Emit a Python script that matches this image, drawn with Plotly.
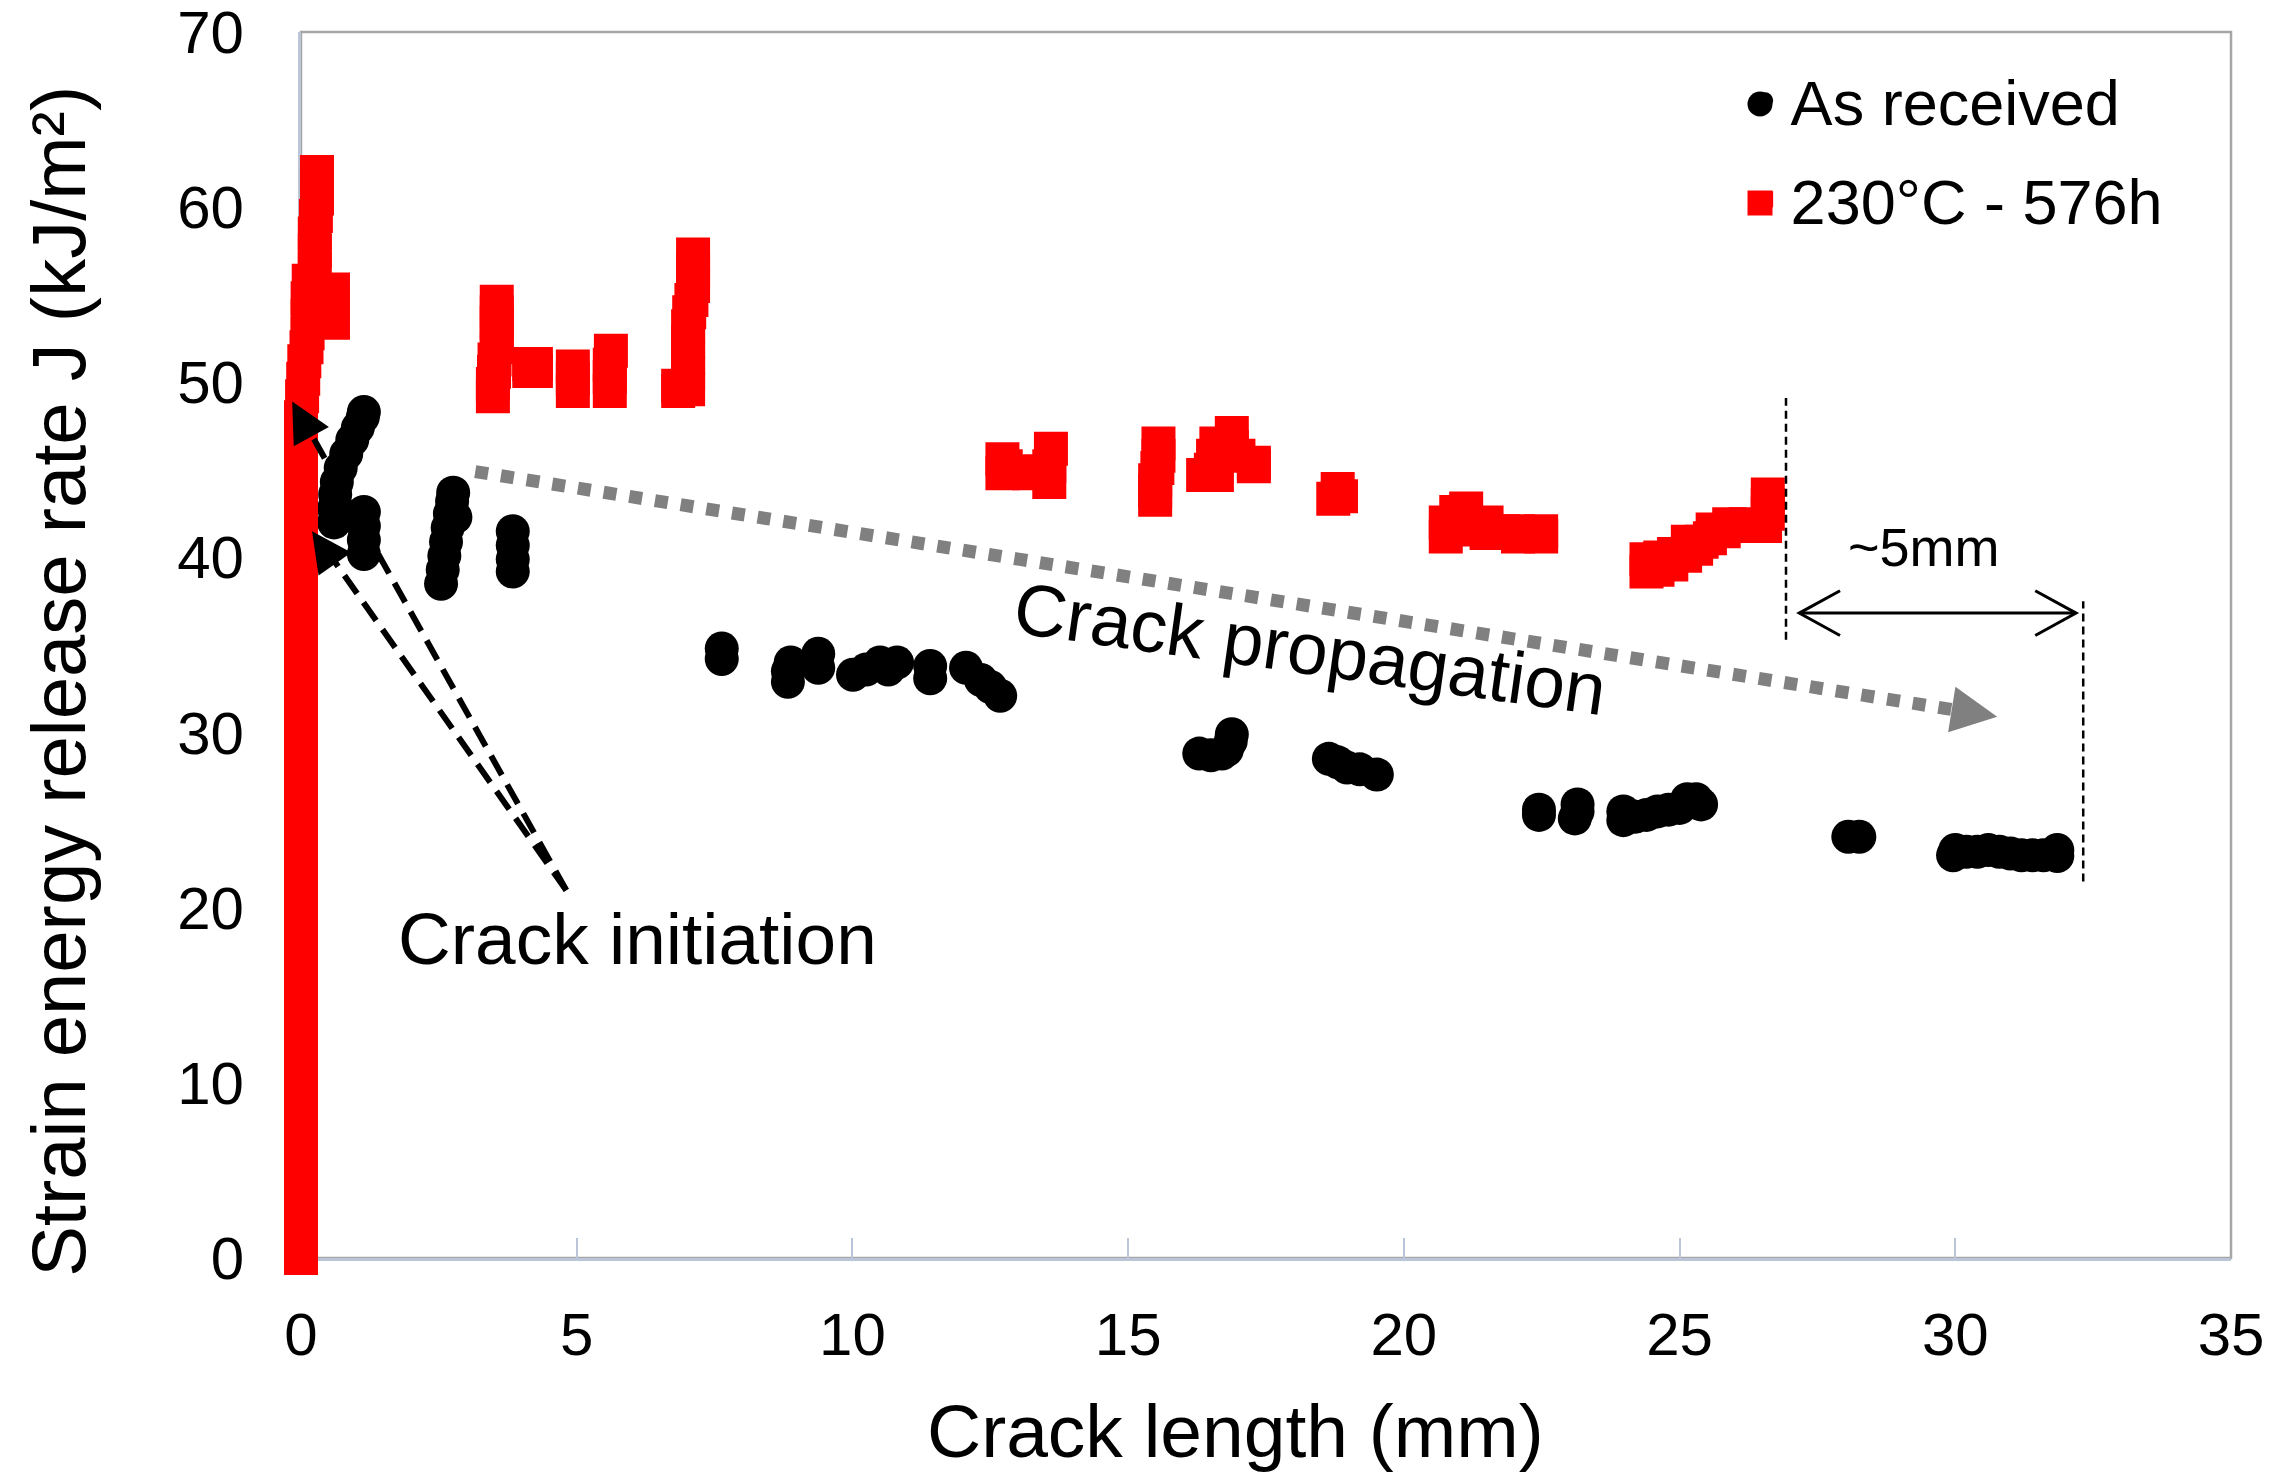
import plotly.graph_objects as go

# ---------------- data ----------------
series_names = ["As received", "230°C - 576h"]

as_received_x = [0.6, 0.6, 0.62, 0.65, 0.72, 0.82, 0.93, 1.03, 1.12, 1.14,
                 1.14, 1.14, 1.14, 1.14,
                 2.54, 2.57, 2.6, 2.63, 2.66, 2.7, 2.74, 2.76, 2.8,
                 3.84, 3.84, 3.84, 3.84,
                 7.63, 7.63,
                 8.83, 8.83, 8.88, 9.38, 9.38,
                 10.01, 10.25, 10.5, 10.81, 10.65,
                 11.41, 11.41,
                 12.06, 12.33, 12.5, 12.68,
                 16.29, 16.5, 16.7, 16.79, 16.86, 16.88,
                 18.64, 18.8, 18.97, 19.2, 19.51,
                 22.45, 22.45,
                 23.1, 23.15, 23.15,
                 23.98, 23.98, 24.2, 24.4, 24.6, 24.8, 25.0, 25.14, 25.3, 25.39,
                 28.06, 28.26,
                 29.96, 30.0, 30.2, 30.4, 30.6, 30.8, 31.0, 31.2, 31.4, 31.6, 31.8, 31.85, 31.85]
as_received_y = [42.0, 42.8, 43.6, 44.3, 45.1, 45.9, 46.7, 47.4, 48.0, 48.3,
                 40.2, 41.0, 41.8, 42.6,
                 38.5, 39.3, 40.1, 40.9, 41.7, 42.5, 43.2, 43.7, 42.3,
                 39.2, 39.9, 40.7, 41.5,
                 34.2, 34.8,
                 32.9, 33.5, 34.0, 33.7, 34.5,
                 33.3, 33.6, 34.0, 34.0, 33.6,
                 33.1, 33.8,
                 33.7, 33.0, 32.6, 32.1,
                 28.8, 28.7, 28.8, 29.0, 29.5, 29.9,
                 28.5, 28.3, 28.0, 27.9, 27.6,
                 25.3, 25.6,
                 25.1, 25.5, 25.9,
                 25.0, 25.5, 25.2, 25.3, 25.5, 25.6, 25.7, 26.2, 26.2, 25.9,
                 24.05, 24.05,
                 23.0, 23.3, 23.2, 23.2, 23.3, 23.2, 23.1, 23.0, 23.0, 23.0, 23.1, 23.3, 22.95]

aged_x = [0, 0, 0, 0, 0, 0, 0, 0, 0, 0, 0, 0, 0, 0, 0, 0, 0,
          0, 0, 0, 0, 0, 0, 0, 0, 0, 0, 0, 0, 0, 0, 0, 0,
          0.02, 0.04, 0.06, 0.1, 0.12, 0.12, 0.12, 0.14, 0.25, 0.25, 0.25, 0.27, 0.29, 0.29, 0.29,
          0.58, 0.58, 0.58,
          3.48, 3.48, 3.5, 3.51, 3.55, 3.55, 3.55, 3.55, 3.55,
          4.14, 4.14, 4.26, 4.26,
          4.93, 4.93, 4.93,
          5.6, 5.6, 5.6, 5.62,
          6.84, 6.84, 7.02, 7.02, 7.02, 7.02, 7.02, 7.04, 7.08, 7.11, 7.11, 7.11,
          12.72, 12.72, 12.78, 13.0, 13.2, 13.4, 13.57, 13.57, 13.6,
          15.55, 15.55, 15.53, 15.49, 15.49, 15.49,
          16.36, 16.5, 16.61, 16.54, 16.6, 16.88, 16.88, 17.0, 17.28, 17.28,
          18.72, 18.86, 18.8,
          20.76, 20.76, 20.95, 21.13, 21.13, 21.5, 21.5, 21.8, 22.07, 22.07, 22.3, 22.49, 22.49,
          24.4, 24.4, 24.6, 24.65, 24.85, 24.9, 25.1, 25.15, 25.3, 25.4, 25.55,
          25.6, 25.8, 25.9, 26.05, 26.2, 26.35, 26.55, 26.6, 26.6, 26.6]
aged_y = [0, 1.5, 3, 4.5, 6, 7.5, 9, 10.5, 12, 13.5, 15, 16.5, 18, 19.5, 21, 22.5, 24,
          25.5, 27, 28.5, 30, 31.5, 33, 34.5, 36, 37.5, 39, 40.5, 42, 43.5, 45, 46.5, 48,
          49.2, 50.2, 51.2, 52.0, 52.8, 53.8, 54.8, 55.8, 56.5, 57.5, 58.5, 59.5, 60.5, 61.3, 62.0,
          53.4, 54.4, 55.3,
          49.2, 49.9, 50.6, 51.3, 52.0, 52.7, 53.4, 54.0, 54.6,
          50.65, 51.05, 50.65, 51.05,
          49.5, 50.2, 50.9,
          49.5, 50.3, 51.0, 51.8,
          49.5, 49.8, 49.6, 50.5, 51.4, 52.3, 53.2, 54.0, 54.7, 55.5, 56.4, 57.3,
          44.8, 45.6, 45.2, 44.9, 44.8, 44.9, 44.3, 45.2, 46.2,
          46.5, 45.8, 45.1, 44.4, 43.8, 43.3,
          44.7, 45.0, 44.7, 45.8, 46.5, 47.1, 46.3, 45.8, 45.2, 45.4,
          43.35, 43.5, 43.9,
          41.2, 42.0, 42.6, 42.8, 41.6, 41.4, 42.0, 41.5, 41.2, 41.5, 41.3, 41.2, 41.5,
          39.2, 39.9, 39.3, 40.0, 39.6, 40.2, 40.1, 40.9, 40.5, 40.9, 41.1,
          41.6, 41.5, 41.9, 41.8, 41.9, 41.8, 41.8, 42.5, 43.0, 43.6]

x_ticks = [0, 5, 10, 15, 20, 25, 30, 35]
y_ticks = [0, 10, 20, 30, 40, 50, 60, 70]

x_title = "Crack length (mm)"
y_title = "Strain energy release rate J (kJ/m²)"
label_initiation = "Crack initiation"
label_propagation = "Crack propagation"
label_gap = "~5mm"

# ---------------- styling ----------------
FONT = "Liberation Sans, Arial, Helvetica, sans-serif"
AXIS_COL = "#BAC5D7"
BORDER_COL = "#A6A6A6"
GRAY = "#808080"

fig = go.Figure()
fig.add_trace(go.Scatter(
    x=as_received_x, y=as_received_y, mode="markers", name=series_names[0],
    marker=dict(symbol="circle", size=34, color="#000000", line=dict(width=0)),
    cliponaxis=False, legendgroup="g1"))
fig.add_trace(go.Scatter(
    x=aged_x, y=aged_y, mode="markers", name=series_names[1],
    marker=dict(symbol="square", size=34, color="#FF0000", line=dict(width=0)),
    cliponaxis=False, legendgroup="g2"))

fig.update_layout(
    width=2271, height=1474,
    margin=dict(l=301, r=40, t=32, b=216, pad=0, autoexpand=False),
    plot_bgcolor="white", paper_bgcolor="white",
    font=dict(family=FONT, color="#000000"),
    showlegend=True,
    legend=dict(x=0.7454, y=0.983, xanchor="left", yanchor="top",
                font=dict(size=63, family=FONT, color="#000000"),
                bgcolor="rgba(0,0,0,0)", borderwidth=0, itemwidth=41,
                traceorder="grouped", tracegroupgap=14),
)

fig.update_xaxes(range=[0, 35], tickvals=x_ticks, showgrid=False, zeroline=False,
                 showline=True, linecolor=AXIS_COL, linewidth=3, automargin=False,
                 layer="below traces",
                 ticks="inside", ticklen=20, tickwidth=2, tickcolor=AXIS_COL,
                 tickfont=dict(size=60, family=FONT, color="#000000"),
                 ticklabelstandoff=22, ticklabeloverflow="allow")
fig.update_yaxes(range=[0, 70], tickvals=y_ticks, showgrid=False, zeroline=False,
                 showline=True, linecolor=AXIS_COL, linewidth=3, automargin=False,
                 layer="below traces",
                 ticks="", tickfont=dict(size=60, family=FONT, color="#000000"),
                 ticklabelstandoff=42, ticklabeloverflow="allow")

shapes = []
# plot-area frame (top & right in grey)
shapes.append(dict(type="rect", xref="paper", yref="paper", x0=0, x1=1, y0=0, y1=1,
                   line=dict(color=BORDER_COL, width=2.5), layer="below"))
# grey dotted "propagation" arrow shaft
shapes.append(dict(type="line", xref="x", yref="y", x0=3.16, y0=44.9, x1=29.97, y1=31.3,
                   line=dict(color=GRAY, width=13, dash="dot")))
# black dashed "initiation" arrow shafts
shapes.append(dict(type="line", xref="x", yref="y", x0=4.81, y0=21.0, x1=0.05, y1=47.8,
                   line=dict(color="#000000", width=6, dash="22px,11px")))
shapes.append(dict(type="line", xref="x", yref="y", x0=4.81, y0=21.0, x1=0.4, y1=40.7,
                   line=dict(color="#000000", width=6, dash="22px,11px")))
# vertical dashed markers of the ~5mm gap
shapes.append(dict(type="line", xref="x", yref="y", x0=26.93, y0=35.3, x1=26.93, y1=49.1,
                   line=dict(color="#000000", width=2.5, dash="8px,5px")))
shapes.append(dict(type="line", xref="x", yref="y", x0=32.32, y0=21.5, x1=32.32, y1=37.5,
                   line=dict(color="#000000", width=2.5, dash="8px,5px")))
# double-headed arrow
shapes.append(dict(type="line", xref="x", yref="y", x0=27.17, y0=36.82, x1=32.19, y1=36.82,
                   line=dict(color="#000000", width=3)))
shapes.append(dict(type="path", xref="x", yref="y",
                   path="M 27.91 38.1 L 27.17 36.82 L 27.91 35.54",
                   line=dict(color="#000000", width=3)))
shapes.append(dict(type="path", xref="x", yref="y",
                   path="M 31.45 38.1 L 32.19 36.82 L 31.45 35.54",
                   line=dict(color="#000000", width=3)))
# enlarged legend symbols (plotly caps legend markers at 16 px)
LEG_X = (1760 - 301) / 1930
shapes.append(dict(type="circle", xref="paper", yref="paper",
                   xsizemode="pixel", ysizemode="pixel",
                   xanchor=LEG_X, yanchor=(1258 - 104) / 1226,
                   x0=-12.5, x1=12.5, y0=-12.5, y1=12.5,
                   fillcolor="#000000", line=dict(width=0)))
shapes.append(dict(type="rect", xref="paper", yref="paper",
                   xsizemode="pixel", ysizemode="pixel",
                   xanchor=LEG_X, yanchor=(1258 - 203) / 1226,
                   x0=-12.5, x1=12.5, y0=-12.5, y1=12.5,
                   fillcolor="#FF0000", line=dict(width=0)))
fig.update_layout(shapes=shapes)

annotations = []
# arrow heads (paper coords so the one left of x=0 is not hidden)
annotations.append(dict(x=-0.16 / 35, y=48.9 / 70, xref="paper", yref="paper", text="",
                        showarrow=True, ax=12, ay=22, arrowhead=2, arrowsize=4.0,
                        arrowwidth=2, arrowcolor="#000000"))
annotations.append(dict(x=0.2 / 35, y=41.5 / 70, xref="paper", yref="paper", text="",
                        showarrow=True, ax=14, ay=20, arrowhead=2, arrowsize=4.0,
                        arrowwidth=2, arrowcolor="#000000"))
annotations.append(dict(x=30.76, y=30.9, xref="x", yref="y", text="", showarrow=True,
                        ax=-25, ay=-4, arrowhead=2, arrowsize=4.6, arrowwidth=2,
                        arrowcolor=GRAY))
# texts
annotations.append(dict(x=6.1, y=18.27, xref="x", yref="y", text=label_initiation,
                        showarrow=False, xanchor="center", yanchor="middle",
                        font=dict(size=73, family=FONT, color="#000000")))
annotations.append(dict(x=18.3, y=34.8, xref="x", yref="y", text=label_propagation,
                        showarrow=False, xanchor="center", yanchor="middle", textangle=8,
                        font=dict(size=73, family=FONT, color="#000000")))
annotations.append(dict(x=29.43, y=40.6, xref="x", yref="y", text=label_gap,
                        showarrow=False, xanchor="center", yanchor="middle",
                        font=dict(size=54, family=FONT, color="#000000")))
# axis titles
annotations.append(dict(x=0.484, y=-0.141, xref="paper", yref="paper", text=x_title,
                        showarrow=False, xanchor="center", yanchor="middle",
                        font=dict(size=75, family=FONT, color="#000000")))
annotations.append(dict(x=-0.126, y=0.4706, xref="paper", yref="paper", text=y_title,
                        showarrow=False, xanchor="center", yanchor="middle", textangle=-90,
                        font=dict(size=76, family=FONT, color="#000000")))
fig.update_layout(annotations=annotations)

fig.write_html("out.html", config={"displayModeBar": False},
               post_script="document.body.style.margin='0px';document.body.style.overflow='hidden';")
